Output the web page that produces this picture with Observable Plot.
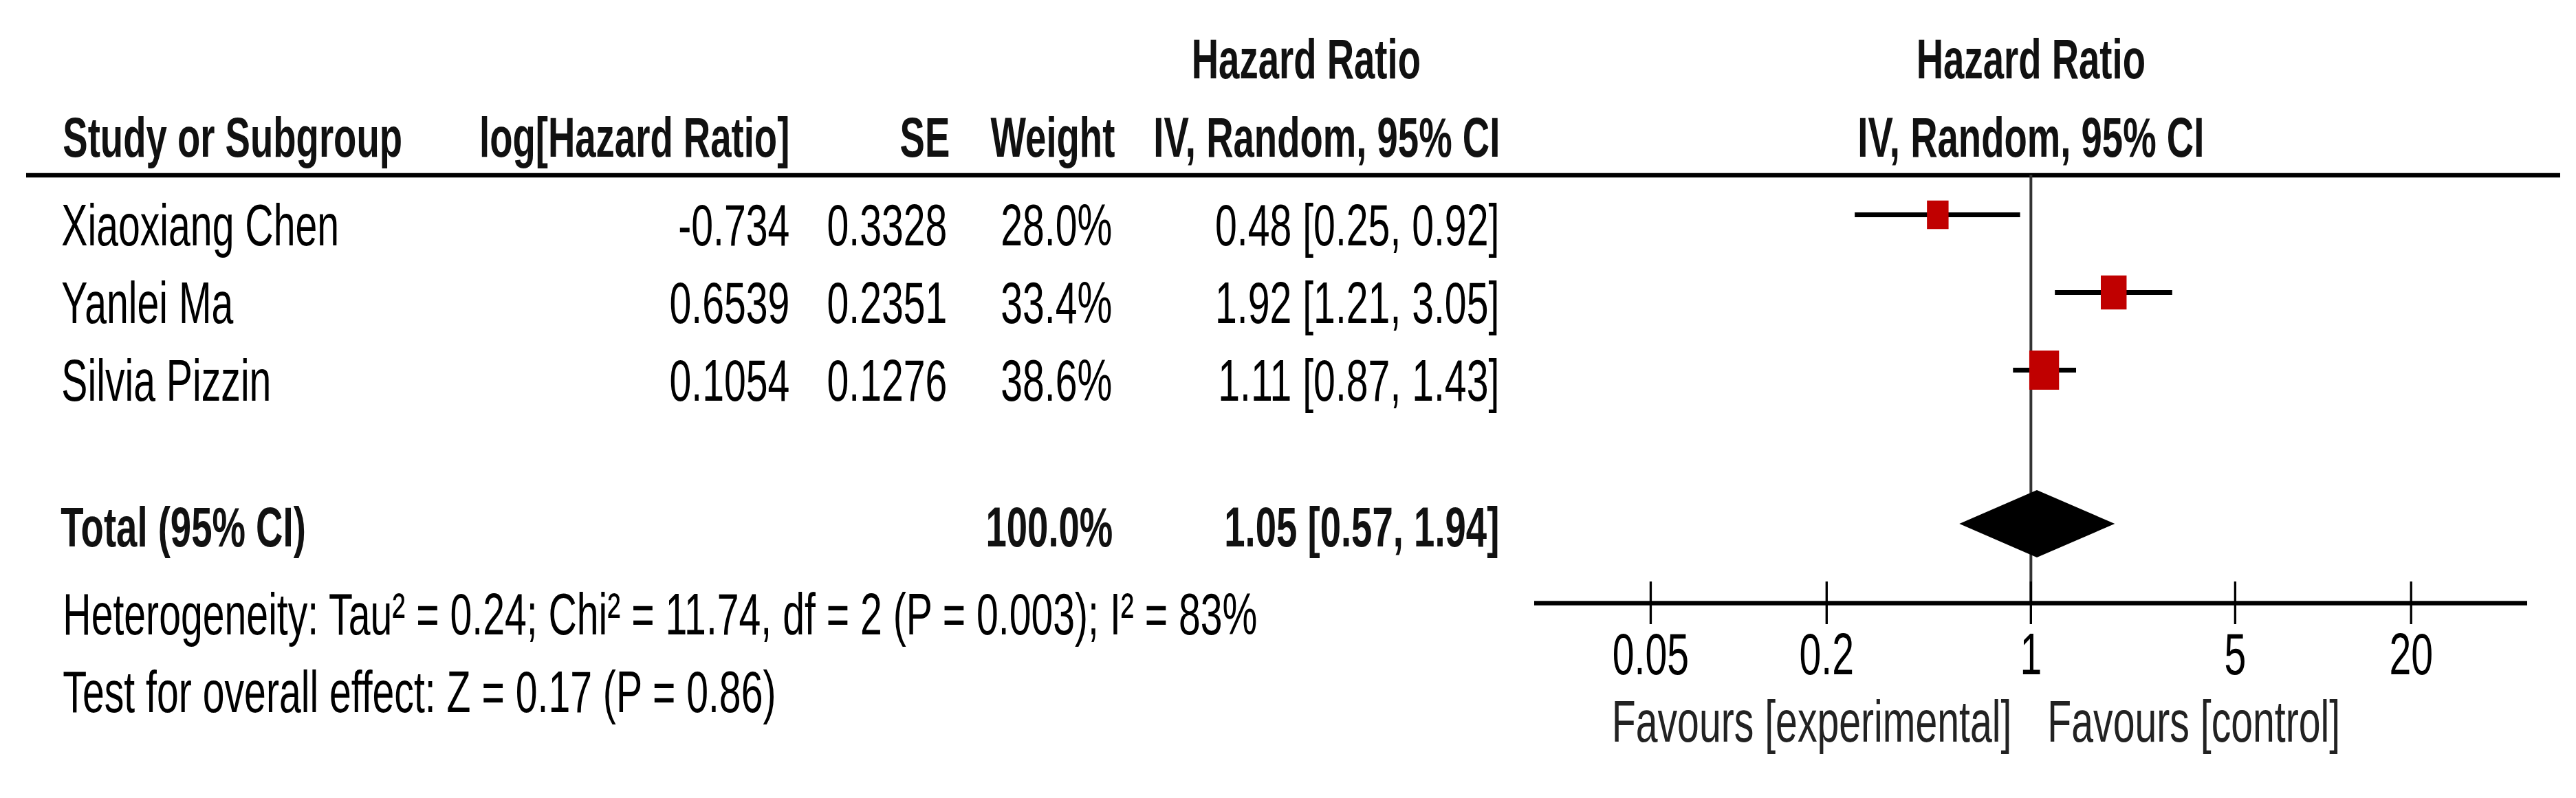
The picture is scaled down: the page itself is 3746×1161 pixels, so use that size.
<!DOCTYPE html>
<html><head><meta charset="utf-8">
<script src="https://cdn.jsdelivr.net/npm/d3@7"></script>
<script src="https://cdn.jsdelivr.net/npm/@observablehq/plot@0.6"></script>
<style>html,body{margin:0;padding:0;background:#fff;} #chart svg{display:block}</style>
</head><body><div id="chart"></div>
<script>
// ---- data ----
const studies = ["Xiaoxiang Chen", "Yanlei Ma", "Silvia Pizzin"];
const logHR = ["-0.734", "0.6539", "0.1054"];
const seValues = ["0.3328", "0.2351", "0.1276"];
const weights = [28.0, 33.4, 38.6];
const hr = [0.48, 1.92, 1.11];
const hrLow = [0.25, 1.21, 0.87];
const hrHigh = [0.92, 3.05, 1.43];
const totalLabel = "Total (95% CI)";
const totalWeight = 100.0;
const totalHR = [1.05];
const totalLow = [0.57];
const totalHigh = [1.94];
const heterogeneity = "Heterogeneity: Tau² = 0.24; Chi² = 11.74, df = 2 (P = 0.003); I² = 83%";
const overallEffect = "Test for overall effect: Z = 0.17 (P = 0.86)";
const axisTicks = [0.05, 0.2, 1, 5, 20];
const axisDomain = [0.02, 50];
const favours = ["Favours [experimental]", "Favours [control]"];
const columnHeaders = ["Study or Subgroup", "log[Hazard Ratio]", "SE", "Weight", "IV, Random, 95% CI"];
const groupHeader = "Hazard Ratio";

// ---- layout ----
const W = 3746, H = 1161, SX = 0.665;      // horizontal condensation of the picture
const LW = W / SX;                          // logical width
const LEFT = 38;                            // display x of frame left
const lx = d => d / SX;                     // display x -> logical x
const off = d => (d - LEFT) / SX;           // dx from frame left
const FS = 86;
const FONT = "Liberation Sans, Arial, sans-serif";

const rows = studies.map((s, i) => ({
  study: s, logHR: logHR[i], se: seValues[i], weight: weights[i],
  hr: hr[i], lo: hrLow[i], hi: hrHigh[i]
}));
const fmtCI = (e, l, h) => `${e.toFixed(2)} [${l.toFixed(2)}, ${h.toFixed(2)}]`;
const yDomain = [...studies, "gap", "total", "footer1", "footer2"];

const txt = {fontSize: FS, lineAnchor: "middle", fill: "#000"};
const bold = {fontSize: 82, lineAnchor: "middle", fill: "#111", fontWeight: "bold"};

const boxSymbol = {
  draw(ctx, size) {
    const h = Math.sqrt(size), w = h * 1.14;
    ctx.moveTo(-w / 2, -h / 2); ctx.lineTo(w / 2, -h / 2);
    ctx.lineTo(w / 2, h / 2); ctx.lineTo(-w / 2, h / 2); ctx.closePath();
  }
};

function diamondMark(index, scales) {
  const x = scales.x, y = scales.y;
  const cy = y("total") - 2, hh = 49;
  const d = `M${x(totalLow[0])},${cy}L${x(totalHR[0])},${cy - hh}L${x(totalHigh[0])},${cy}L${x(totalHR[0])},${cy + hh}Z`;
  return d3.create("svg:path").attr("d", d).attr("fill", "#000").node();
}

const chart = Plot.plot({
  width: LW,
  height: H,
  marginLeft: lx(LEFT),
  marginRight: LW - lx(3723),
  marginTop: 0,
  marginBottom: 0,
  style: {fontFamily: FONT, background: "white", overflow: "visible"},
  x: {type: "log", domain: axisDomain, range: [lx(2231), lx(3675)], axis: null},
  y: {type: "point", domain: yDomain, range: [312, 990], padding: 0, axis: null},
  r: {type: "linear", domain: [0, 100], range: [0, 83.5]},
  marks: [
    // header rule
    Plot.ruleY([studies[0]], {dy: -57.5, stroke: "#000", strokeWidth: 6.5}),
    // line of no effect
    Plot.ruleX([1], {x: d => d, y1: () => studies[0], y2: () => "footer1", insetTop: -57.5, stroke: "#333", strokeWidth: 6}),
    // axis
    Plot.ruleY(["footer1"], {x1: () => axisDomain[0], x2: () => axisDomain[1], stroke: "#000", strokeWidth: 6.5}),
    Plot.ruleX(axisTicks, {x: d => d, y1: () => "footer1", y2: () => "footer1", insetTop: -31, insetBottom: -31, stroke: "#000", strokeWidth: 5}),
    Plot.text(axisTicks, {...txt, x: d => d, y: () => "footer1", dy: 76, text: d => String(d)}),
    Plot.text([favours[0]], {...txt, fill: "#222", x: () => 1, y: () => "footer1", dy: 174, dx: -28 / SX, textAnchor: "end", text: d => d}),
    Plot.text([favours[1]], {...txt, fill: "#222", x: () => 1, y: () => "footer1", dy: 174, dx: 24 / SX, textAnchor: "start", text: d => d}),
    // study CIs and boxes
    Plot.ruleY(rows, {y: "study", x1: "lo", x2: "hi", stroke: "#000", strokeWidth: 7}),
    Plot.dot(rows, {x: "hr", y: "study", r: "weight", symbol: boxSymbol, fill: "#C00000", stroke: "none"}),
    // pooled diamond
    diamondMark,
    // headers
    Plot.text([groupHeader], {...bold, frameAnchor: "top-left", dx: off(1899), dy: 87, textAnchor: "middle", text: d => d}),
    Plot.text([groupHeader], {...bold, x: () => 1, frameAnchor: "top", dy: 87, textAnchor: "middle", text: d => d}),
    Plot.text([columnHeaders[0]], {...bold, frameAnchor: "top-left", dx: off(91), dy: 201, textAnchor: "start", text: d => d}),
    Plot.text([columnHeaders[1]], {...bold, frameAnchor: "top-left", dx: off(1148), dy: 201, textAnchor: "end", text: d => d}),
    Plot.text([columnHeaders[2]], {...bold, frameAnchor: "top-left", dx: off(1381), dy: 201, textAnchor: "end", text: d => d}),
    Plot.text([columnHeaders[3]], {...bold, frameAnchor: "top-left", dx: off(1621), dy: 201, textAnchor: "end", text: d => d}),
    Plot.text([columnHeaders[4]], {...bold, frameAnchor: "top-left", dx: off(2181), dy: 201, textAnchor: "end", text: d => d}),
    Plot.text([columnHeaders[4]], {...bold, x: () => 1, frameAnchor: "top", dy: 201, textAnchor: "middle", text: d => d}),
    // study rows
    Plot.text(rows, {...txt, y: "study", text: "study", frameAnchor: "left", dx: off(89), dy: 17, textAnchor: "start"}),
    Plot.text(rows, {...txt, y: "study", text: "logHR", frameAnchor: "left", dx: off(1148), dy: 17, textAnchor: "end"}),
    Plot.text(rows, {...txt, y: "study", text: "se", frameAnchor: "left", dx: off(1377), dy: 17, textAnchor: "end"}),
    Plot.text(rows, {...txt, y: "study", text: d => d.weight.toFixed(1) + "%", frameAnchor: "left", dx: off(1617), dy: 17, textAnchor: "end"}),
    Plot.text(rows, {...txt, y: "study", text: d => fmtCI(d.hr, d.lo, d.hi), frameAnchor: "left", dx: off(2180), dy: 17, textAnchor: "end"}),
    // total row
    Plot.text([totalLabel], {...bold, y: () => "total", text: d => d, frameAnchor: "left", dx: off(88), dy: 4, textAnchor: "start"}),
    Plot.text([totalWeight], {...bold, y: () => "total", text: d => d.toFixed(1) + "%", frameAnchor: "left", dx: off(1618), dy: 4, textAnchor: "end"}),
    Plot.text([0], {...bold, y: () => "total", text: i => fmtCI(totalHR[i], totalLow[i], totalHigh[i]), frameAnchor: "left", dx: off(2180), dy: 4, textAnchor: "end"}),
    // footers
    Plot.text([heterogeneity], {...txt, y: () => "footer1", text: d => d, frameAnchor: "left", dx: off(91), dy: 18, textAnchor: "start"}),
    Plot.text([overallEffect], {...txt, y: () => "footer2", text: d => d, frameAnchor: "left", dx: off(91), dy: 18, textAnchor: "start"})
  ]
});

chart.setAttribute("width", W);
chart.setAttribute("height", H);
chart.setAttribute("preserveAspectRatio", "none");
chart.style.width = W + "px";
chart.style.height = H + "px";
chart.style.maxWidth = "none";
document.getElementById("chart").appendChild(chart);
</script>
</body></html>
